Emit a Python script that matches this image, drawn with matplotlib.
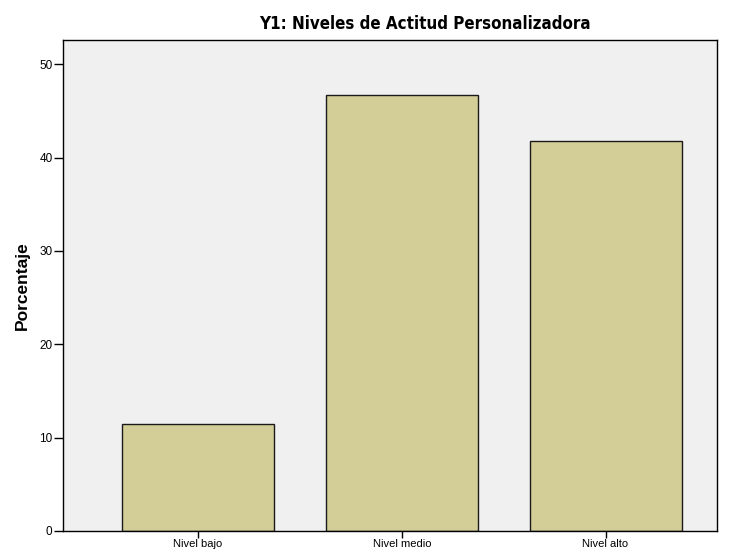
import matplotlib.pyplot as plt
import numpy as np

categorias = ['Nivel bajo', 'Nivel medio', 'Nivel alto']
porcentajes = [11.5, 46.7, 41.8]
yticks = [0, 10, 20, 30, 40, 50]


def main():
    plt.rcParams['font.family'] = ['Liberation Sans', 'DejaVu Sans']
    fig = plt.figure(figsize=(7.29, 5.53), dpi=100)
    ax = fig.add_axes([0.0864, 0.0398, 0.8971, 0.8879])
    ax.set_facecolor('#F0F0F0')

    x = np.arange(len(categorias))
    ax.bar(x, porcentajes, width=0.746, color='#D3CE97',
           edgecolor='#1a1a1a', linewidth=1.0, zorder=2)

    ax.set_xlim(-0.6626, 2.547)
    ax.set_ylim(0, 52.6)
    ax.set_xticks(x)
    ax.set_xticklabels(categorias, fontsize=8)
    ax.set_yticks(yticks)
    ax.set_yticklabels([str(v) for v in yticks], fontsize=8.5)
    ax.tick_params(axis='y', direction='out', length=6.5, width=1,
                   pad=1, color='black')
    ax.tick_params(axis='x', direction='out', length=5, width=1,
                   pad=1, color='black')

    for s in ax.spines.values():
        s.set_linewidth(1.0)
        s.set_color('black')

    ax.set_ylabel('Porcentaje', fontsize=12.5, fontweight='bold', labelpad=7)
    # titulo condensado, algo desplazado a la derecha como en el original
    fig.text(0.583, 0.957, 'Y1: Niveles de Actitud Personalizadora',
             ha='center', va='center', fontsize=12.2, fontweight='bold',
             family='DejaVu Sans', fontstretch='condensed')

    fig.savefig('out.png', dpi=100, facecolor='white')


if __name__ == "__main__":
    main()
